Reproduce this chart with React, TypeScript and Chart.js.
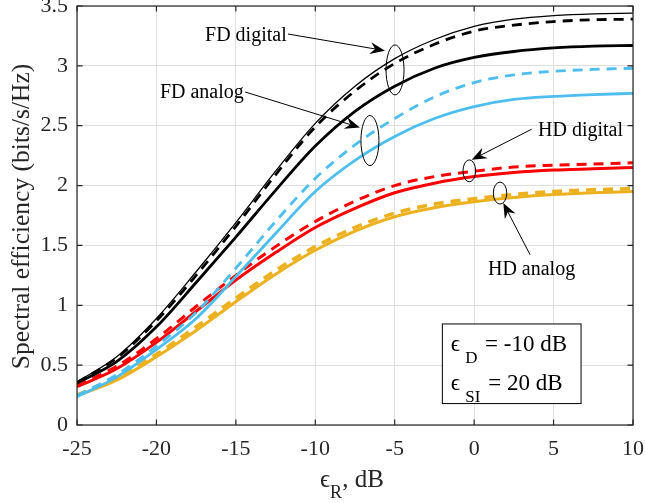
import React, { useEffect, useRef } from "react";
import { Chart, registerables } from "chart.js";

Chart.register(...registerables);

// ---- Data ----
const xValues = [-25, -22.5, -20, -17.5, -15, -12.5, -10, -7.5, -5, -2.5, 0, 2.5, 5, 7.5, 10];

const fdUpperThin = [0.36, 0.57, 0.89, 1.28, 1.69, 2.12, 2.52, 2.83, 3.06, 3.22, 3.33, 3.39, 3.42, 3.435, 3.44];
const fdDigitalDashed = [0.355, 0.56, 0.87, 1.25, 1.66, 2.09, 2.49, 2.79, 3.02, 3.18, 3.29, 3.34, 3.37, 3.385, 3.39];
const fdDigitalSolid = [0.35, 0.53, 0.82, 1.19, 1.57, 1.96, 2.33, 2.62, 2.83, 2.98, 3.07, 3.12, 3.15, 3.165, 3.17];
const fdAnalogDashed = [0.245, 0.42, 0.66, 0.94, 1.31, 1.7, 2.06, 2.34, 2.56, 2.74, 2.86, 2.925, 2.955, 2.97, 2.98];
const fdAnalogSolid = [0.235, 0.4, 0.63, 0.89, 1.24, 1.6, 1.95, 2.21, 2.41, 2.56, 2.66, 2.72, 2.745, 2.76, 2.77];
const hdDigitalDashed = [0.33, 0.49, 0.72, 0.99, 1.25, 1.49, 1.7, 1.87, 2.0, 2.075, 2.12, 2.155, 2.17, 2.18, 2.19];
const hdDigitalSolid = [0.32, 0.47, 0.69, 0.95, 1.21, 1.44, 1.65, 1.81, 1.94, 2.02, 2.075, 2.11, 2.13, 2.14, 2.15];
const hdAnalogDashed = [0.25, 0.39, 0.59, 0.82, 1.06, 1.29, 1.49, 1.65, 1.77, 1.845, 1.89, 1.925, 1.95, 1.965, 1.975];
const hdAnalogSolid = [0.245, 0.375, 0.57, 0.79, 1.03, 1.26, 1.46, 1.62, 1.74, 1.815, 1.865, 1.9, 1.925, 1.94, 1.95];

const xTickStep = 5;
const yTickStep = 0.5;
const xRange = [-25, 10];
const yRange = [0, 3.5];

const yAxisTitle = "Spectral efficiency (bits/s/Hz)";

const BLACK = "#000000";
const BLUE = "#4DBEEE";
const RED = "#FF0000";
const ORANGE = "#EDB120";
const AXIS = "#262626";
const SERIF = '"Liberation Serif", "DejaVu Serif", serif';

const seriesList = [
  { name: "FD upper", values: fdUpperThin, color: BLACK, width: 1.3, dash: [] as number[] },
  { name: "FD digital dashed", values: fdDigitalDashed, color: BLACK, width: 2.8, dash: [10, 7] },
  { name: "FD digital", values: fdDigitalSolid, color: BLACK, width: 2.8, dash: [] as number[] },
  { name: "FD analog dashed", values: fdAnalogDashed, color: BLUE, width: 2.8, dash: [10, 7] },
  { name: "FD analog", values: fdAnalogSolid, color: BLUE, width: 2.8, dash: [] as number[] },
  { name: "HD digital dashed", values: hdDigitalDashed, color: RED, width: 3, dash: [10, 7] },
  { name: "HD digital", values: hdDigitalSolid, color: RED, width: 3, dash: [] as number[] },
  { name: "HD analog dashed", values: hdAnalogDashed, color: ORANGE, width: 3.6, dash: [10, 7] },
  { name: "HD analog", values: hdAnalogSolid, color: ORANGE, width: 3, dash: [] as number[] },
];

// Annotation anchors in data units
const textNotes = [
  { text: "FD digital", x: -16.94, y: 3.208 },
  { text: "FD analog", x: -19.78, y: 2.732 },
  { text: "HD digital", x: 4.02, y: 2.415 },
  { text: "HD analog", x: 0.87, y: 1.256 },
];
const arrowNotes = [
  { x1: -11.72, y1: 3.266, x2: -5.61, y2: 3.127 },
  { x1: -14.42, y1: 2.782, x2: -7.19, y2: 2.485 },
  { x1: 3.62, y1: 2.471, x2: -0.155, y2: 2.215 },
  { x1: 3.52, y1: 1.4225, x2: 1.835, y2: 1.854 },
];
const ellipseNotes = [
  { x: -4.98, y: 2.966, rx: 9, ry: 25 },
  { x: -6.56, y: 2.376, rx: 9, ry: 25 },
  { x: -0.305, y: 2.123, rx: 6.3, ry: 11 },
  { x: 1.63, y: 1.937, rx: 6.7, ry: 11 },
];
const paramBox = { x1: -2.0, y1: 0.844, x2: 6.73, y2: 0.179 };
const paramLines = [
  { sub: "D", rest: "= -10 dB" },
  { sub: "SI", rest: "= 20 dB" },
];

function drawArrow(ctx: CanvasRenderingContext2D, x1: number, y1: number, x2: number, y2: number) {
  const ang = Math.atan2(y2 - y1, x2 - x1);
  const len = 15;
  const hw = 6;
  const notch = 10;
  const cos = Math.cos(ang);
  const sin = Math.sin(ang);
  ctx.beginPath();
  ctx.moveTo(x1, y1);
  ctx.lineTo(x2 - cos * notch, y2 - sin * notch);
  ctx.stroke();
  const bx = x2 - cos * len;
  const by = y2 - sin * len;
  ctx.beginPath();
  ctx.moveTo(x2, y2);
  ctx.lineTo(bx - sin * hw, by + cos * hw);
  ctx.lineTo(x2 - cos * notch, y2 - sin * notch);
  ctx.lineTo(bx + sin * hw, by - cos * hw);
  ctx.closePath();
  ctx.fill();
}

const decorPlugin = {
  id: "decor",
  afterDraw(chart: any) {
    const { ctx, chartArea: a, scales } = chart;
    const xs = scales.x;
    const ys = scales.y;
    ctx.save();

    // Axes box
    ctx.strokeStyle = AXIS;
    ctx.lineWidth = 1.2;
    ctx.strokeRect(a.left, a.top, a.right - a.left, a.bottom - a.top);

    // Inward ticks
    const tl = 5.5;
    ctx.beginPath();
    for (let v = xRange[0]; v <= xRange[1] + 1e-9; v += xTickStep) {
      const px = xs.getPixelForValue(v);
      ctx.moveTo(px, a.bottom);
      ctx.lineTo(px, a.bottom - tl);
      ctx.moveTo(px, a.top);
      ctx.lineTo(px, a.top + tl);
    }
    for (let v = yRange[0]; v <= yRange[1] + 1e-9; v += yTickStep) {
      const py = ys.getPixelForValue(v);
      ctx.moveTo(a.left, py);
      ctx.lineTo(a.left + tl, py);
      ctx.moveTo(a.right, py);
      ctx.lineTo(a.right - tl, py);
    }
    ctx.stroke();

    // Y axis title
    ctx.fillStyle = AXIS;
    ctx.font = `25.5px ${SERIF}`;
    ctx.save();
    ctx.translate(29, (a.top + a.bottom) / 2 + 1);
    ctx.rotate(-Math.PI / 2);
    ctx.textAlign = "center";
    ctx.textBaseline = "alphabetic";
    ctx.fillText(yAxisTitle, 0, 0);
    ctx.restore();

    // X axis title: epsilon_R, dB
    ctx.textAlign = "left";
    ctx.textBaseline = "alphabetic";
    const xtBase = 487;
    const xtLeft = 320;
    ctx.font = `25px ${SERIF}`;
    ctx.fillText("\u03F5", xtLeft, xtBase);
    const ew = ctx.measureText("\u03F5").width;
    ctx.font = `18px ${SERIF}`;
    ctx.fillText("R", xtLeft + ew, xtBase + 11);
    const rw = ctx.measureText("R").width;
    ctx.font = `25px ${SERIF}`;
    ctx.fillText(", dB", xtLeft + ew + rw, xtBase);

    // Ellipses
    ctx.strokeStyle = "#000";
    ctx.lineWidth = 1;
    for (const e of ellipseNotes) {
      ctx.beginPath();
      ctx.ellipse(xs.getPixelForValue(e.x), ys.getPixelForValue(e.y), e.rx, e.ry, 0, 0, Math.PI * 2);
      ctx.stroke();
    }

    // Arrows
    ctx.fillStyle = "#000";
    for (const ar of arrowNotes) {
      drawArrow(
        ctx,
        xs.getPixelForValue(ar.x1),
        ys.getPixelForValue(ar.y1),
        xs.getPixelForValue(ar.x2),
        ys.getPixelForValue(ar.y2)
      );
    }

    // Annotation texts
    ctx.font = `20px ${SERIF}`;
    ctx.fillStyle = "#000";
    for (const t of textNotes) {
      ctx.fillText(t.text, xs.getPixelForValue(t.x), ys.getPixelForValue(t.y));
    }

    // Parameter box
    const bx1 = xs.getPixelForValue(paramBox.x1);
    const by1 = ys.getPixelForValue(paramBox.y1);
    const bx2 = xs.getPixelForValue(paramBox.x2);
    const by2 = ys.getPixelForValue(paramBox.y2);
    ctx.fillStyle = "#fff";
    ctx.fillRect(bx1, by1, bx2 - bx1, by2 - by1);
    ctx.strokeStyle = "#000";
    ctx.lineWidth = 1;
    ctx.strokeRect(bx1, by1, bx2 - bx1, by2 - by1);
    ctx.fillStyle = "#000";
    const lineBases = [27.4, 66.4];
    const restOffsets = [42.7, 46];
    paramLines.forEach((ln, i) => {
      const base = by1 + lineBases[i];
      ctx.font = `23px ${SERIF}`;
      ctx.fillText("\u03F5", bx1 + 8.5, base);
      ctx.font = `17px ${SERIF}`;
      ctx.fillText(ln.sub, bx1 + 23, base + 11.5);
      ctx.font = `23px ${SERIF}`;
      ctx.fillText(ln.rest, bx1 + restOffsets[i], base);
    });

    ctx.restore();
  },
};

export default function App() {
  const canvasRef = useRef<HTMLCanvasElement | null>(null);

  useEffect(() => {
    const canvas = canvasRef.current;
    if (!canvas) return;
    const datasets = seriesList.map((s) => ({
      label: s.name,
      data: xValues.map((xv, i) => ({ x: xv, y: s.values[i] })),
      borderColor: s.color,
      backgroundColor: s.color,
      borderWidth: s.width,
      borderDash: s.dash,
      borderCapStyle: "butt" as const,
      pointRadius: 0,
      fill: false,
      cubicInterpolationMode: "monotone" as const,
    }));

    const chart = new Chart(canvas, {
      type: "line",
      data: { datasets },
      options: {
        responsive: false,
        animation: false,
        layout: { padding: { left: 0, top: 6, right: 12, bottom: 0 } },
        plugins: {
          legend: { display: false },
          tooltip: { enabled: false },
          title: { display: false },
        },
        scales: {
          x: {
            type: "linear",
            min: xRange[0],
            max: xRange[1],
            ticks: {
              stepSize: xTickStep,
              maxRotation: 0,
              padding: 11,
              color: AXIS,
              font: { family: SERIF, size: 22 },
              callback: (v: any) => String(v),
            },
            grid: { color: "#dfdfdf", lineWidth: 1, drawTicks: false },
            border: { display: false },
            afterFit: (s: any) => {
              s.height = 78;
              s.paddingLeft = 0;
              s.paddingRight = 0;
            },
          },
          y: {
            type: "linear",
            min: yRange[0],
            max: yRange[1],
            ticks: {
              stepSize: yTickStep,
              padding: 9,
              color: AXIS,
              font: { family: SERIF, size: 22 },
              callback: (v: any) => String(v),
            },
            grid: { color: "#dfdfdf", lineWidth: 1, drawTicks: false },
            border: { display: false },
            afterFit: (s: any) => {
              s.width = 77;
              s.paddingTop = 0;
              s.paddingBottom = 0;
            },
          },
        },
      },
      plugins: [decorPlugin],
    });

    return () => chart.destroy();
  }, []);

  return (
    <div style={{ position: "absolute", left: 0, top: 0, width: 645, height: 503, background: "#fff" }}>
      <canvas ref={canvasRef} width={645} height={503} style={{ width: 645, height: 503 }} />
    </div>
  );
}
